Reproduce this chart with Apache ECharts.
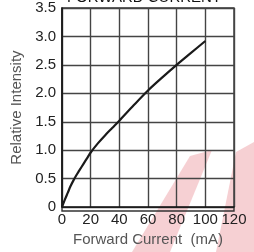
<!DOCTYPE html>
<html style="height: 100%">
<head>
    <meta charset="utf-8">
</head>
<body style="height: 100%; margin: 0; background-color: #fff;">
<div id="container" style="width: 254px; height: 252px;"></div>
<script type="text/javascript" src="https://cdn.jsdelivr.net/npm/echarts@6/dist/echarts.min.js"></script>
<script type="text/javascript">
var chartTitle = 'FORWARD CURRENT';
var xName = 'Forward Current  (mA)';
var yName = 'Relative Intensity';

// forward current (mA) vs relative intensity
var currentMA = [0, 2, 4, 6, 8, 10, 12, 15, 18, 20, 25, 30, 35, 40, 50, 60, 70, 80, 90, 100];
var intensity = [0, 0.13, 0.25, 0.37, 0.47, 0.56, 0.64, 0.76, 0.88, 0.96, 1.12, 1.26, 1.39, 1.52, 1.79, 2.05, 2.28, 2.5, 2.71, 2.92];

var xTicks = [0, 20, 40, 60, 80, 100, 120];
var yTicks = [0, 0.5, 1.0, 1.5, 2.0, 2.5, 3.0, 3.5];

var lineData = [];
for (var i = 0; i < currentMA.length; i++) {
    lineData.push([currentMA[i], intensity[i]]);
}

var font = 'Liberation Sans, Arial, sans-serif';
var myChart = echarts.init(document.getElementById('container'));

var option = {
    animation: false,
    grid: {
        left: 62,
        right: 20,
        top: 8,
        bottom: 41,
        containLabel: false
    },
    graphic: [
        // faint pink watermark
        {
            type: 'polygon',
            z: -10,
            shape: { points: [[190, 156], [212, 150], [170, 252], [132, 252]] },
            style: { fill: 'rgba(225, 100, 110, 0.3)' }
        },
        {
            type: 'polygon',
            z: -10,
            shape: { points: [[236, 152], [254, 142], [254, 252], [216, 252]] },
            style: { fill: 'rgba(225, 100, 110, 0.3)' }
        },
        {
            type: 'text',
            x: 144,
            y: -10,
            style: {
                text: chartTitle,
                fontSize: 15,
                fontFamily: font,
                fill: '#111',
                textAlign: 'center'
            }
        }
    ],
    xAxis: {
        type: 'value',
        min: xTicks[0],
        max: xTicks[xTicks.length - 1],
        interval: 20,
        name: xName,
        nameLocation: 'middle',
        nameGap: 22,
        nameTextStyle: { fontSize: 15, fontFamily: font, color: '#555' },
        axisLine: { show: true, lineStyle: { color: '#111', width: 1.5 } },
        axisTick: { show: false },
        axisLabel: { fontSize: 15, fontFamily: font, color: '#222', margin: 5 },
        splitLine: { show: true, lineStyle: { color: '#444', width: 1.4 } }
    },
    yAxis: {
        type: 'value',
        min: yTicks[0],
        max: yTicks[yTicks.length - 1],
        interval: 0.5,
        name: yName,
        nameLocation: 'middle',
        nameGap: 35,
        nameTextStyle: { fontSize: 15, fontFamily: font, color: '#555' },
        axisLine: { show: true, lineStyle: { color: '#111', width: 1.5 } },
        axisTick: { show: false },
        axisLabel: {
            fontSize: 15,
            fontFamily: font,
            color: '#222',
            margin: 6,
            formatter: function (v) {
                return v === 0 ? '0' : v.toFixed(1);
            }
        },
        splitLine: { show: true, lineStyle: { color: '#444', width: 1.4 } }
    },
    series: [{
        type: 'line',
        data: lineData,
        smooth: 0.3,
        symbol: 'none',
        lineStyle: { color: '#1a1a1a', width: 2.2 }
    }]
};

// outer box on the right and top
option.graphic.push({
    type: 'rect',
    shape: { x: 62, y: 8, width: 172, height: 203 },
    style: { fill: 'none', stroke: '#333', lineWidth: 1.4 },
    silent: true
});

myChart.setOption(option);
</script>
</body>
</html>
